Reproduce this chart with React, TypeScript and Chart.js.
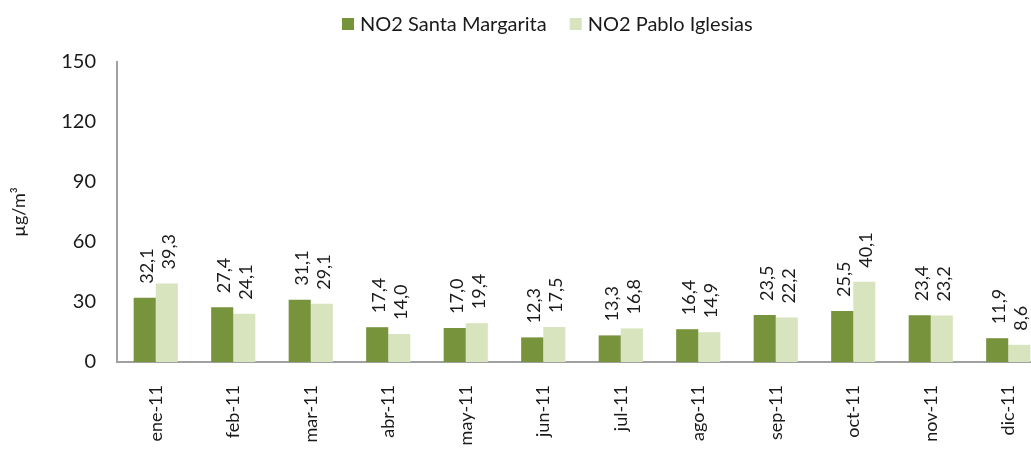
import React, { useEffect, useRef } from "react";
import { Chart, registerables } from "chart.js";

Chart.register(...registerables);

const categories = ["ene-11", "feb-11", "mar-11", "abr-11", "may-11", "jun-11", "jul-11", "ago-11", "sep-11", "oct-11", "nov-11", "dic-11"];
const santaMargarita = [32.1, 27.4, 31.1, 17.4, 17.0, 12.3, 13.3, 16.4, 23.5, 25.5, 23.4, 11.9];
const pabloIglesias = [39.3, 24.1, 29.1, 14.0, 19.4, 17.5, 16.8, 14.9, 22.2, 40.1, 23.2, 8.6];
const seriesNames = ["NO2 Santa Margarita", "NO2 Pablo Iglesias"];
const seriesColors = ["#77933C", "#D7E4BD"];
const yTicks = [0, 30, 60, 90, 120, 150];

const FONT = "Lato, 'Open Sans', sans-serif";
const TEXT = "#1a1a1a";

const fmt = (v: number) => v.toFixed(1).replace(".", ",");

const labelPlugin = {
  id: "barLabels",
  afterDatasetsDraw(chart: any) {
    const ctx = chart.ctx;
    ctx.save();
    ctx.font = `18px ${FONT}`;
    ctx.fillStyle = TEXT;
    ctx.textAlign = "left";
    ctx.textBaseline = "middle";
    chart.data.datasets.forEach((ds: any, di: number) => {
      const meta = chart.getDatasetMeta(di);
      meta.data.forEach((bar: any, i: number) => {
        ctx.save();
        ctx.translate(bar.x + 2, bar.y - 14);
        ctx.rotate(-Math.PI / 2);
        ctx.fillText(fmt(ds.data[i]), 0, 0);
        ctx.restore();
      });
    });
    ctx.restore();
  },
};

const legendPlugin = {
  id: "customLegend",
  afterDraw(chart: any) {
    const ctx = chart.ctx;
    ctx.save();
    ctx.font = `20px ${FONT}`;
    ctx.textBaseline = "middle";
    ctx.textAlign = "left";
    let x = 342;
    const y = 24;
    seriesNames.forEach((name, i) => {
      ctx.fillStyle = seriesColors[i];
      ctx.fillRect(x, y - 6, 12, 12);
      ctx.fillStyle = TEXT;
      ctx.fillText(name, x + 18, y + 1);
      x += 18 + ctx.measureText(name).width + 23;
    });
    ctx.restore();
  },
};

export default function App() {
  const ref = useRef<HTMLCanvasElement>(null);
  useEffect(() => {
    if (!ref.current) return;
    const chart = new Chart(ref.current, {
      type: "bar",
      data: {
        labels: categories,
        datasets: [
          { label: seriesNames[0], data: santaMargarita, backgroundColor: seriesColors[0], categoryPercentage: 0.57, barPercentage: 1 },
          { label: seriesNames[1], data: pabloIglesias, backgroundColor: seriesColors[1], categoryPercentage: 0.57, barPercentage: 1 },
        ],
      },
      options: {
        animation: false,
        responsive: false,
        maintainAspectRatio: false,
        layout: { padding: { top: 62, right: 0, left: 0, bottom: 0 } },
        plugins: { legend: { display: false }, tooltip: { enabled: false } },
        scales: {
          x: {
            grid: { display: false },
            border: { display: true, color: "#A0A0A0", width: 2 },
            ticks: {
              minRotation: 90,
              maxRotation: 90,
              padding: 15,
              color: TEXT,
              font: { family: FONT, size: 18 },
            },
            afterFit: (s: any) => { s.height = 88; },
          },
          y: {
            min: 0,
            max: 150,
            afterBuildTicks: (s: any) => { s.ticks = yTicks.map((v) => ({ value: v })); },
            grid: { display: false },
            border: { display: true, color: "#A0A0A0", width: 2 },
            ticks: { padding: 13, color: TEXT, font: { family: FONT, size: 20 } },
            title: {
              display: true,
              text: "µg/m³",
              color: TEXT,
              font: { family: FONT, size: 18 },
              padding: { top: 8, bottom: 0 },
            },
            afterFit: (s: any) => { s.width = 117; },
          },
        },
      },
      plugins: [labelPlugin, legendPlugin],
    });
    return () => chart.destroy();
  }, []);
  return (
    <div style={{ position: "fixed", left: 0, top: 0, width: 1031, height: 450, overflow: "hidden", background: "#fff" }}>
      <canvas ref={ref} width={1047} height={450} style={{ width: 1047, height: 450, display: "block" }} />
    </div>
  );
}
